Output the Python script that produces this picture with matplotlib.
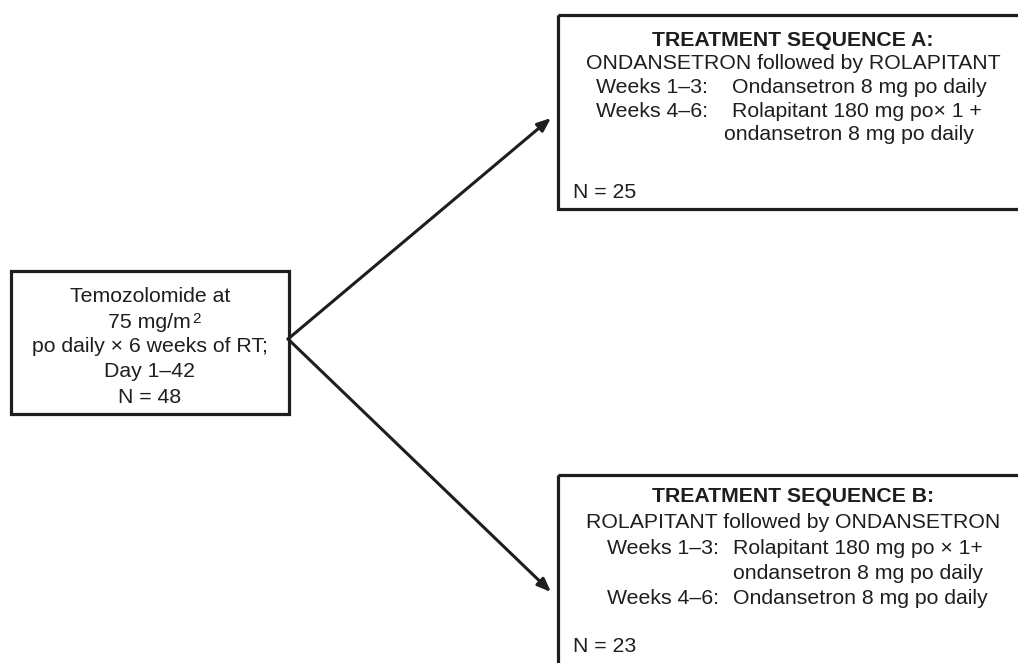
import matplotlib.pyplot as plt
from matplotlib.patches import Rectangle

plt.rcParams['font.family'] = ['Liberation Sans', 'DejaVu Sans']

INK = '#1e1e1e'
FS = 15.3

# start box
start_lines = ['Temozolomide at', '75 mg/m', 'po daily \u00d7 6 weeks of RT;', 'Day 1\u201342', 'N = 48']
start_sup = '2'

# sequence A
a_title = 'TREATMENT SEQUENCE A:'
a_sub = 'ONDANSETRON followed by ROLAPITANT'
a_weeks = ['Weeks 1\u20133:', 'Weeks 4\u20136:', '']
a_regimen = ['Ondansetron 8 mg po daily', 'Rolapitant 180 mg po\u00d7 1 +', 'ondansetron 8 mg po daily']
a_n = 'N = 25'

# sequence B
b_title = 'TREATMENT SEQUENCE B:'
b_sub = 'ROLAPITANT followed by ONDANSETRON'
b_weeks = ['Weeks 1\u20133:', '', 'Weeks 4\u20136:']
b_regimen = ['Rolapitant 180 mg po \u00d7 1+', 'ondansetron 8 mg po daily', 'Ondansetron 8 mg po daily']
b_n = 'N = 23'

fig = plt.figure(figsize=(10.18, 6.63), dpi=100)
ax = fig.add_axes([0, 0, 1, 1])
ax.set_xlim(0, 1018)
ax.set_ylim(663, 0)
ax.axis('off')

lw = 2.3
# boxes
ax.add_patch(Rectangle((11, 271), 278, 143, fill=False, ec=INK, lw=lw))
ax.add_patch(Rectangle((558, 15), 480, 194, fill=False, ec=INK, lw=lw))
ax.add_patch(Rectangle((558, 475), 480, 220, fill=False, ec=INK, lw=lw))

# start text
for i, s in enumerate(start_lines):
    y = 296 + i * 25.3
    if i == 1:
        ax.text(191, 328, s, ha='right', va='baseline', fontsize=FS, color=INK)
        ax.text(192, 323, start_sup, ha='left', va='baseline', fontsize=FS * 0.72, color=INK)
    else:
        ax.text(150, y, s, ha='center', va='center', fontsize=FS, color=INK)


def seq_box(title, sub, weeks, regimen, n, y0, step, xw, xr, ny):
    ax.text(793, y0, title, ha='center', va='center', fontsize=FS, color=INK, weight='bold')
    ax.text(793, y0 + step, sub, ha='center', va='center', fontsize=FS, color=INK)
    for i, (w, r) in enumerate(zip(weeks, regimen)):
        y = y0 + step * (i + 2)
        if w:
            ax.text(xw, y, w, ha='right', va='center', fontsize=FS, color=INK)
        ax.text(xr[i], y, r, ha='left', va='center', fontsize=FS, color=INK)
    ax.text(573, ny, n, ha='left', va='center', fontsize=FS, color=INK)


seq_box(a_title, a_sub, a_weeks, a_regimen, a_n, 40, 23.7, 708, [732, 732, 724], 192)
seq_box(b_title, b_sub, b_weeks, b_regimen, b_n, 497, 25.5, 719, [733, 733, 733], 647)

# arrows
for tip in [(551, 118), (551, 592)]:
    ax.annotate('', xy=tip, xytext=(288, 339),
                arrowprops=dict(arrowstyle='-|>,head_length=0.8,head_width=0.32',
                                color=INK, lw=2.2, shrinkA=0, shrinkB=0))

fig.savefig('out.png', dpi=100)
